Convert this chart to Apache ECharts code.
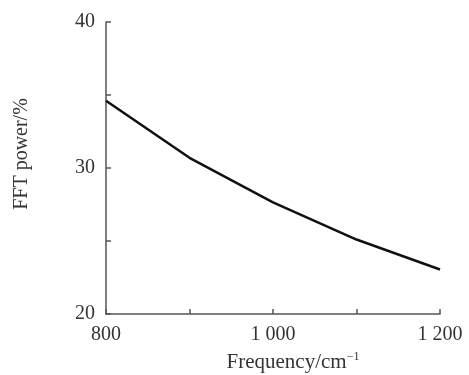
<!DOCTYPE html>
<html><head><meta charset="utf-8">
<script src="https://cdn.jsdelivr.net/npm/echarts@6/dist/echarts.min.js"></script>
<style>html,body{margin:0;padding:0;background:#fff}#c{width:469px;height:375px}</style>
</head><body><div id="c"></div>
<script>
const frequency = [800, 900, 1000, 1100, 1200];
const fftPower = [34.6, 30.7, 27.65, 25.1, 23.05];
const xTickLabels = {800: '800', 1000: '1 000', 1200: '1 200'};
const yTickLabels = {20: '20', 30: '30', 40: '40'};

const font = 'Liberation Serif';
const axisColor = '#555';
const textColor = '#333';
const chart = echarts.init(document.getElementById('c'));
chart.setOption({
  animation: false,
  grid: {left: 106, right: 29, top: 22, bottom: 61, containLabel: false, outerBoundsMode: 'none'},
  xAxis: {
    type: 'value', min: 800, max: 1200, interval: 100,
    name: 'Frequency/cm{sup|−1}', nameLocation: 'middle', nameGap: 37,
    nameTextStyle: {fontFamily: font, fontSize: 21, color: textColor, padding: [0, 0, 0, 40],
      rich: {sup: {fontFamily: font, fontSize: 12, color: textColor, verticalAlign: 'top', padding: [0,0,10,0]}}},
    axisLine: {lineStyle: {color: axisColor, width: 1.5}},
    axisTick: {inside: true, length: 5, lineStyle: {color: axisColor, width: 1.5}},
    axisLabel: {fontFamily: font, fontSize: 20, color: textColor, margin: 11,
      formatter: v => xTickLabels[v] || ''},
    splitLine: {show: false}
  },
  yAxis: {
    type: 'value', min: 20, max: 40, interval: 5,
    name: 'FFT power/%', nameLocation: 'middle', nameGap: 74,
    nameTextStyle: {fontFamily: font, fontSize: 20, color: textColor, padding: [0, 0, 0, 28]},
    axisLine: {show: true, lineStyle: {color: axisColor, width: 1.5}},
    axisTick: {show: true, inside: true, length: 5, lineStyle: {color: axisColor, width: 1.5}},
    axisLabel: {fontFamily: font, fontSize: 20, color: textColor, margin: 11,
      formatter: v => yTickLabels[v] || ''},
    splitLine: {show: false}
  },
  series: [{
    type: 'line', data: frequency.map((f, i) => [f, fftPower[i]]),
    showSymbol: false, lineStyle: {color: '#111', width: 2.5}
  }]
});
</script></body></html>
